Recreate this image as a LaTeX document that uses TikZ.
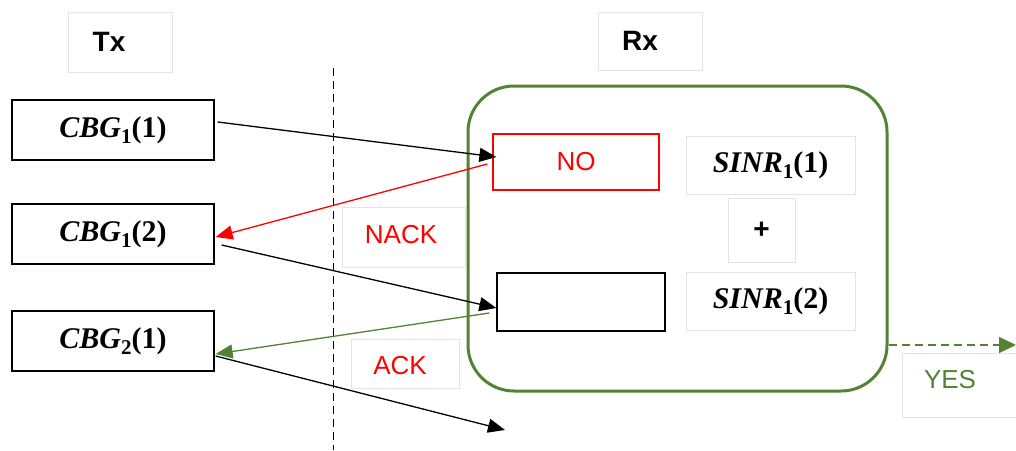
\documentclass[tikz,border=0pt]{standalone}
\usepackage{fontspec}
\setsansfont{Liberation Sans}
\newfontfamily\mserif{Liberation Serif}
\usetikzlibrary{arrows.meta,calc}
\definecolor{ogreen}{RGB}{84,130,53}
\definecolor{faint}{RGB}{228,228,228}
% bold italic letters, bold upright lowered subscript and argument
\newcommand{\mymath}[3]{{\mserif\bfseries{\itshape #1\/}\raisebox{-6pt}{\fontsize{21}{21}\selectfont #2}(#3)}}
\begin{document}
\begin{tikzpicture}[x=1pt,y=-1pt,
  fbox/.style={draw=faint,line width=0.7pt,inner sep=0pt},
  sfbig/.style={font=\fontsize{26}{30}\selectfont\sffamily},
  hdr/.style={font=\fontsize{28}{32}\selectfont\sffamily\bfseries},
  mfont/.style={font=\fontsize{30}{34}\selectfont},
  bbox/.style={draw=black,line width=1.3pt,inner sep=0pt,minimum width=202pt,minimum height=60pt,mfont},
  tip/.style={-{Triangle[length=17pt,width=14pt]}},
  blk/.style={draw=black,line width=1.3pt,tip},
  rd/.style={draw=red,line width=1.3pt,tip},
  gr/.style={draw=ogreen,line width=1.3pt,tip}
]
\useasboundingbox (0,0) rectangle (1016,450);

% header labels
\node (txbox) [fbox,minimum width=104pt,minimum height=60pt] at (120,42) {};
\node (tx) [hdr] at (109,42) {Tx};
\node (rxbox) [fbox,minimum width=104pt,minimum height=58pt] at (650,41) {};
\node (rx) [hdr] at (640,41) {Rx};

% dashed separator
\coordinate (septop) at (333,68);
\coordinate (sepbot) at (333,450);
\draw[black,line width=1pt,dash pattern=on 8pt off 5pt] (septop) -- (sepbot);

% Tx blocks
\node (cbg11) [bbox] at (113,130) {\mymath{CBG}{1}{1}};
\node (cbg12) [bbox] at (113,234) {\mymath{CBG}{1}{2}};
\node (cbg21) [bbox] at (113,341) {\mymath{CBG}{2}{1}};

% Rx container
\node (rxc) [draw=ogreen,line width=3pt,rounded corners=46pt,minimum width=419pt,minimum height=305pt,inner sep=0pt] at (677.5,238.5) {};

% Rx inner blocks
\node (no) [draw=red,line width=1.2pt,minimum width=166pt,minimum height=56pt,inner sep=0pt,sfbig,text=red] at (576,162) {NO};
\node (empty) [draw=black,line width=1.3pt,minimum width=168pt,minimum height=58pt,inner sep=0pt] at (581,302) {};
\node (sinr1) [fbox,minimum width=169pt,minimum height=58pt,mfont] at (770.5,165) {\mymath{SINR}{1}{1}};
\node (plus) [fbox,minimum width=67pt,minimum height=64pt,font=\fontsize{28}{32}\selectfont\sffamily\bfseries] at (761.5,230) {+};
\node (sinr2) [fbox,minimum width=169pt,minimum height=58pt,mfont] at (770.5,301) {\mymath{SINR}{1}{2}};

% feedback labels
\node (nackbox) [fbox,minimum width=123pt,minimum height=60pt] at (403.5,237) {};
\node (nack) [sfbig,text=red] at (401,235) {NACK};
\node (ackbox) [fbox,minimum width=108pt,minimum height=49pt] at (405,363.5) {};
\node (ack) [sfbig,text=red] at (400,366) {ACK};
\node (yesbox) [fbox,minimum width=120pt,minimum height=64pt] at (962,385) {};
\node (yes) [sfbig,text=ogreen] at (950,380) {YES};

% connectors
\draw[blk] ([shift={(3,-8)}]cbg11.east) -- ([shift={(4,-5)}]no.west);
\draw[rd] ([shift={(-5,2)}]no.west) -- ([shift={(1,3)}]cbg12.east);
\draw[blk] ([shift={(7,11)}]cbg12.east) -- ([shift={(0,6)}]empty.west);
\draw[gr] ([shift={(-7,11)}]empty.west) -- ([shift={(1,13)}]cbg21.east);
\coordinate (lost) at (505,430);
\draw[blk] ([shift={(1,15)}]cbg21.east) -- (lost);
\coordinate (yesend) at (1016,345);
\draw[gr,dash pattern=on 8pt off 5pt,-{Triangle[length=17pt,width=16pt]}] ([shift={(0,106.5)}]rxc.east) -- (yesend);
\end{tikzpicture}
\end{document}
